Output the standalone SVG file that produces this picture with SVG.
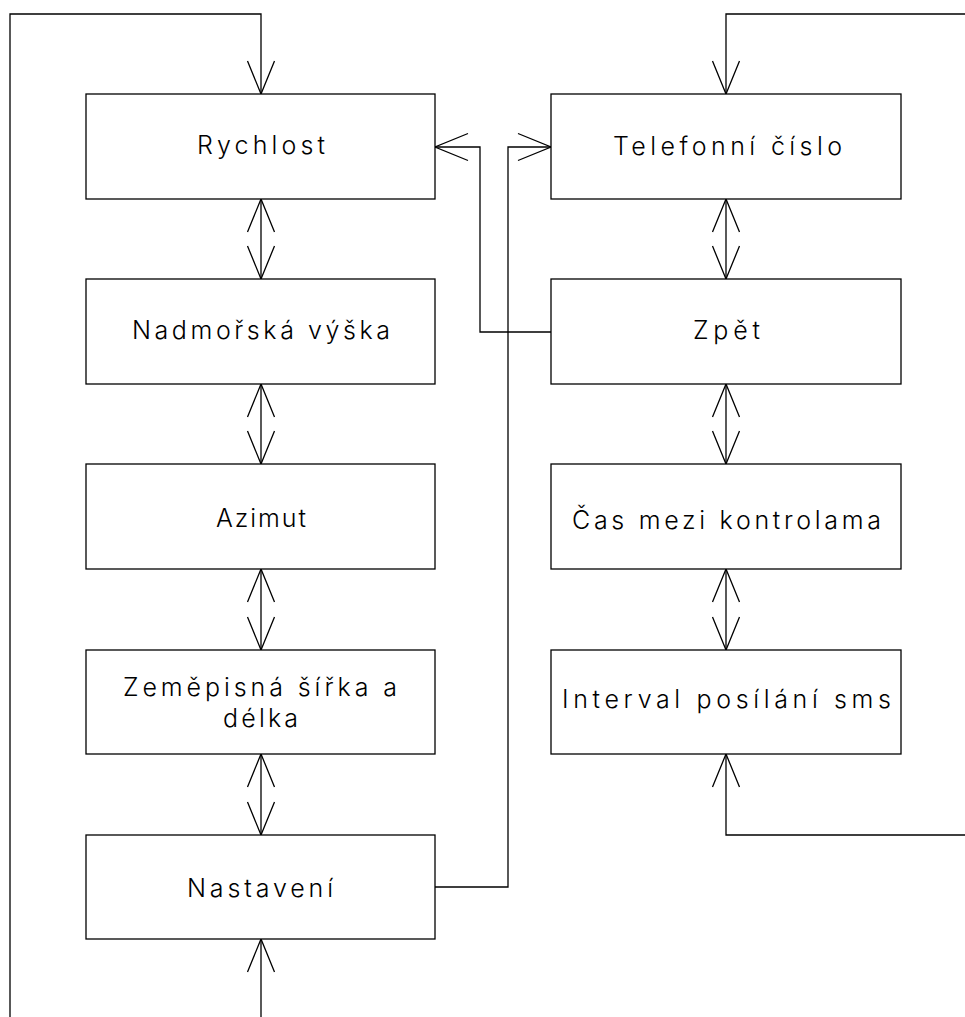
<svg xmlns="http://www.w3.org/2000/svg" width="965" height="1017" viewBox="0 0 965 1017">
  <style>
    .box { fill: #ffffff; stroke: #000000; stroke-width: 1.3; }
    .lbl { font-family: Inter, "Liberation Sans", sans-serif; font-weight: 300; font-size: 25px; fill: #000000; }
    .con { fill: none; stroke: #000000; stroke-width: 1.3; }
  </style>
  <defs>
    <marker id="arr" markerUnits="userSpaceOnUse" markerWidth="40" markerHeight="32" viewBox="-36 -16 40 32" refX="0" refY="0" orient="auto-start-reverse">
      <path d="M-33,-13.5 L0,0 L-33,13.5" fill="none" stroke="#000000" stroke-width="1.3"/>
    </marker>
  </defs>
  <rect width="965" height="1017" fill="#ffffff"/>

  <g id="connectors">
    <polyline class="con" points="10,1017 10,14 261,14 261,94" marker-end="url(#arr)"/>
    <polyline class="con" points="965,14 726,14 726,94" marker-end="url(#arr)"/>
    <polyline class="con" points="965,835 726,835 726,754" marker-end="url(#arr)"/>
    <line class="con" x1="261" y1="1017" x2="261" y2="939" marker-end="url(#arr)"/>
    <polyline class="con" points="551,332 480,332 480,147 435,147" marker-end="url(#arr)"/>
    <polyline class="con" points="435,887 508,887 508,147 551,147" marker-end="url(#arr)"/>
    <line class="con" x1="261" y1="199" x2="261" y2="279" marker-start="url(#arr)" marker-end="url(#arr)"/>
    <line class="con" x1="261" y1="384" x2="261" y2="464" marker-start="url(#arr)" marker-end="url(#arr)"/>
    <line class="con" x1="261" y1="569" x2="261" y2="650" marker-start="url(#arr)" marker-end="url(#arr)"/>
    <line class="con" x1="261" y1="754" x2="261" y2="835" marker-start="url(#arr)" marker-end="url(#arr)"/>
    <line class="con" x1="726" y1="199" x2="726" y2="279" marker-start="url(#arr)" marker-end="url(#arr)"/>
    <line class="con" x1="726" y1="384" x2="726" y2="464" marker-start="url(#arr)" marker-end="url(#arr)"/>
    <line class="con" x1="726" y1="569" x2="726" y2="650" marker-start="url(#arr)" marker-end="url(#arr)"/>
  </g>

  <g id="rychlost">
    <rect class="box" x="86" y="94" width="349" height="105"/>
    <text class="lbl" x="197" y="154" textLength="128" lengthAdjust="spacing">Rychlost</text>
  </g>
  <g id="nadmorska">
    <rect class="box" x="86" y="279" width="349" height="105"/>
    <text class="lbl" x="132" y="339" textLength="258" lengthAdjust="spacing">Nadmořská výška</text>
  </g>
  <g id="azimut">
    <rect class="box" x="86" y="464" width="349" height="105"/>
    <text class="lbl" x="216" y="527" textLength="90" lengthAdjust="spacing">Azimut</text>
  </g>
  <g id="zemepisna">
    <rect class="box" x="86" y="650" width="349" height="104"/>
    <text class="lbl" x="123" y="696" textLength="274" lengthAdjust="spacing">Zeměpisná šířka a</text>
    <text class="lbl" x="223" y="727" textLength="75" lengthAdjust="spacing">délka</text>
  </g>
  <g id="nastaveni">
    <rect class="box" x="86" y="835" width="349" height="104"/>
    <text class="lbl" x="187" y="897" textLength="146" lengthAdjust="spacing">Nastavení</text>
  </g>
  <g id="telefonni">
    <rect class="box" x="551" y="94" width="350" height="105"/>
    <text class="lbl" x="613" y="155" textLength="229" lengthAdjust="spacing">Telefonní číslo</text>
  </g>
  <g id="zpet">
    <rect class="box" x="551" y="279" width="350" height="105"/>
    <text class="lbl" x="693" y="339" textLength="67" lengthAdjust="spacing">Zpět</text>
  </g>
  <g id="cas">
    <rect class="box" x="551" y="464" width="350" height="105"/>
    <text class="lbl" x="572" y="529" textLength="309" lengthAdjust="spacing">Čas mezi kontrolama</text>
  </g>
  <g id="interval">
    <rect class="box" x="551" y="650" width="350" height="104"/>
    <text class="lbl" x="562" y="708" textLength="329" lengthAdjust="spacing">Interval posílání sms</text>
  </g>
</svg>
